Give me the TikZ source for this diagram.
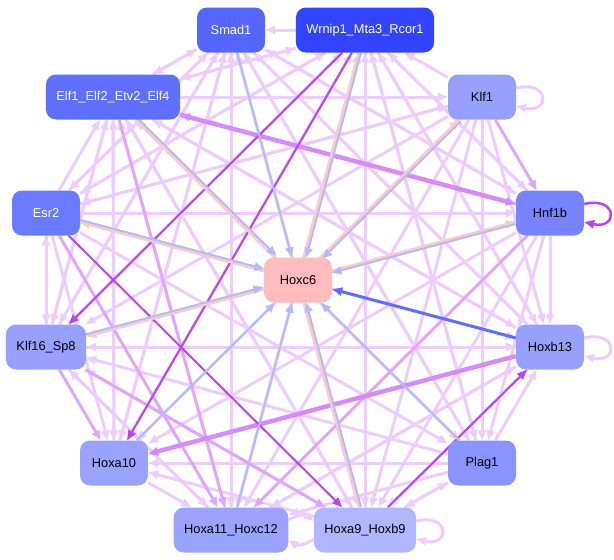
\documentclass[tikz,border=0pt]{standalone}
\usepackage{fontspec}
\setmainfont{Liberation Sans}
\usetikzlibrary{arrows.meta,backgrounds}
\definecolor{smadblue}{HTML}{5566FF}
\definecolor{wrnipblue}{HTML}{3344FF}
\definecolor{elfblue}{HTML}{5F70FF}
\definecolor{esrblue}{HTML}{6A7BFF}
\definecolor{hnfblue}{HTML}{7884FF}
\definecolor{plagblue}{HTML}{8A94FF}
\definecolor{klfblue}{HTML}{97A0FF}
\definecolor{hoxblue}{HTML}{9AA3FF}
\definecolor{ninblue}{HTML}{B1B7FF}
\definecolor{hoxcpink}{HTML}{FFBCBC}
\definecolor{elight}{HTML}{EDCDFF}
\definecolor{emid}{HTML}{E0A6FF}
\definecolor{edark}{HTML}{D68CF8}
\definecolor{estrong}{HTML}{BB44F0}
\definecolor{eblue}{HTML}{B3BBFF}
\definecolor{edeep}{HTML}{5E6EFF}
\definecolor{epeach}{HTML}{FFCCC0}

\begin{document}
\begin{tikzpicture}[x=1pt,y=1pt,
	gene/.style={rectangle,rounded corners=10pt,minimum width=68pt,minimum height=45pt,inner xsep=10.5pt,font=\fontsize{12.8}{15}\selectfont},
	link/.style={line width=3pt,-{Triangle[length=10pt,width=8pt]}},
	lightlink/.style={link,elight},
	midlink/.style={link,emid},
	darklink/.style={link,edark,line width=4.5pt},
	stronglink/.style={link,estrong,line width=2pt},
	bluelink/.style={link,eblue,line width=2pt},
	peachlink/.style={link,epeach,line width=2.5pt}]
	\useasboundingbox (0,0) rectangle (614,-560);
	\node[gene,fill=smadblue,text=white] (smad) at (231,-30) {Smad1};
	\node[gene,fill=wrnipblue,text=white] (wrnip) at (365,-30) {Wrnip1\_Mta3\_Rcor1};
	\node[gene,fill=elfblue,text=white] (elf) at (113,-97) {Elf1\_Elf2\_Etv2\_Elf4};
	\node[gene,fill=klfblue] (klf) at (482,-97) {Klf1};
	\node[gene,fill=esrblue,text=white] (esr) at (46,-213) {Esr2};
	\node[gene,fill=hnfblue] (hnf) at (550,-213) {Hnf1b};
	\node[gene,fill=hoxcpink] (hoxc) at (298,-280) {Hoxc6};
	\node[gene,fill=klfblue] (klfsp) at (46,-347) {Klf16\_Sp8};
	\node[gene,fill=klfblue] (hoxb) at (550,-347) {Hoxb13};
	\node[gene,fill=hoxblue] (hoxaten) at (114,-463) {Hoxa10};
	\node[gene,fill=plagblue] (plag) at (482,-463) {Plag1};
	\node[gene,fill=hoxblue] (hoxaeleven) at (231,-530) {Hoxa11\_Hoxc12};
	\node[gene,fill=ninblue] (hoxanine) at (365,-530) {Hoxa9\_Hoxb9};

	\begin{pgfonlayer}{background}
	\foreach \a/\b in {smad/elf,smad/esr,smad/klfsp,smad/hoxaten,smad/hoxaeleven,smad/hoxanine,smad/plag,smad/hoxb,smad/hnf,
		wrnip/smad,wrnip/elf,wrnip/esr,wrnip/hoxaeleven,wrnip/hoxanine,wrnip/plag,wrnip/hoxb,wrnip/hnf,
		elf/smad,elf/wrnip,elf/klf,elf/klfsp,elf/hoxaten,elf/hoxanine,elf/plag,elf/hoxb,
		esr/elf,esr/klf,esr/hnf,esr/klfsp,esr/hoxaten,esr/plag,esr/hoxb,esr/wrnip,esr/smad,
		klf/wrnip,klf/plag,klf/hoxb,klf/hoxanine,klf/hoxaeleven,klf/hoxaten,klf/klfsp,klf/esr,
		hnf/wrnip,hnf/smad,hnf/hoxb,hnf/plag,hnf/hoxanine,hnf/hoxaten,hnf/klfsp,
		klfsp/esr,klfsp/elf,klfsp/smad,klfsp/wrnip,klfsp/hoxaeleven,klfsp/hoxb,
		hoxaten/hoxaeleven,hoxaten/smad,hoxaten/wrnip,hoxaten/elf,
		hoxaeleven/wrnip,hoxaeleven/smad,hoxaeleven/elf,hoxaeleven/hoxb,hoxaeleven/klfsp,
		hoxanine/wrnip,hoxanine/smad,hoxanine/elf,hoxanine/klfsp,hoxanine/hoxaten,hoxanine/plag,
		plag/hoxaten,plag/hoxb,plag/wrnip,plag/smad,plag/elf,plag/klfsp,plag/hoxaeleven,plag/hoxanine,
		hoxb/klfsp,hoxb/wrnip,hoxb/smad,hoxb/elf,hoxb/hoxaeleven,hoxb/hoxanine}
		\draw[lightlink] (\a) -- (\b);
	\foreach \a/\b in {klf/hnf,elf/hoxaeleven,esr/hoxaeleven,klfsp/hoxanine,klfsp/hoxaten,hnf/hoxaeleven,hnf/elf}
		\draw[midlink] (\a) -- (\b);
	\foreach \a/\b in {elf/hnf,hoxb/hoxaten}
		\draw[darklink] (\a) -- (\b);
	\foreach \a/\b in {wrnip/klfsp,wrnip/hoxaten,hoxanine/hoxb,esr/hoxanine}
		\draw[stronglink] (\a) -- (\b);

	\draw[lightlink] (hoxaeleven.10) to[bend left=35] (hoxanine.170);
	\draw[lightlink] (hoxanine.190) to[bend left=35] (hoxaeleven.-10);
	\draw[lightlink] ([yshift=9pt]klf.east) .. controls +(34,8) and +(34,-8) .. ([yshift=-9pt]klf.east);
	\draw[stronglink,line width=2.5pt] ([yshift=9pt]hnf.east) .. controls +(34,8) and +(34,-8) .. ([yshift=-9pt]hnf.east);
	\draw[lightlink] ([yshift=9pt]hoxb.east) .. controls +(34,8) and +(34,-8) .. ([yshift=-9pt]hoxb.east);
	\draw[lightlink] ([yshift=9pt]hoxanine.east) .. controls +(34,8) and +(34,-8) .. ([yshift=-9pt]hoxanine.east);

	\foreach \a in {smad,hoxaten,hoxaeleven,plag}
		\draw[bluelink] (\a) -- (hoxc);
	\draw[link,edeep] (hoxb) -- (hoxc);
	\foreach \a/\s in {elf/{(1.5pt,1.5pt)},esr/{(0.5pt,2pt)},klfsp/{(-0.5pt,2pt)},klf/{(1.5pt,-1.5pt)},hnf/{(-0.5pt,-2pt)},wrnip/{(2pt,-0.5pt)},hoxanine/{(2pt,0.5pt)}}{
		\draw[peachlink] (hoxc) -- (\a);
		\draw[bluelink,transform canvas={shift=\s}] (\a) -- (hoxc);
	}
	\end{pgfonlayer}
\end{tikzpicture}
\end{document}
